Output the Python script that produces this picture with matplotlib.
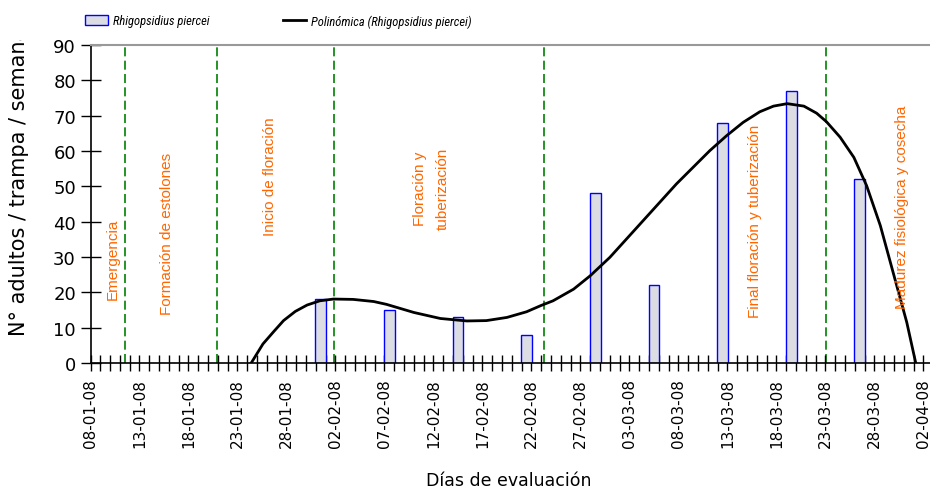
import numpy as np
import matplotlib
matplotlib.use('Agg')
import matplotlib.pyplot as plt
import matplotlib.dates as mdates
from matplotlib import font_manager
from matplotlib.patches import Patch
from matplotlib.lines import Line2D
from matplotlib.transforms import Bbox
from datetime import date

# weekly trap counts
bar_dates = ['2008-01-31', '2008-02-07', '2008-02-14', '2008-02-21', '2008-02-28',
             '2008-03-05', '2008-03-12', '2008-03-19', '2008-03-26']
bar_values = [18, 15, 13, 8, 48, 22, 68, 77, 52]

# polynomial trend line (days after 08-01-08, value)
curve_days = [16.4, 17.6, 18.7, 19.7, 20.9, 22.1, 23.4, 24.8, 26.8, 28.9, 30.2, 33.0,
              35.7, 38.4, 40.4, 42.5, 44.5, 46.0, 47.2, 49.3, 51.0, 53.0, 54.7, 56.4,
              58.1, 59.8, 61.5, 63.2, 64.9, 66.6, 68.3, 69.7, 71.1, 72.8, 74.1, 75.1,
              76.5, 77.9, 79.2, 80.6, 81.9, 83.3, 84.2]
curve_values = [0.0, 5.4, 8.9, 12.0, 14.6, 16.4, 17.6, 18.1, 18.0, 17.4, 16.6, 14.3,
                12.6, 11.9, 12.0, 12.9, 14.5, 16.3, 17.6, 20.9, 24.7, 29.9, 35.1, 40.3,
                45.5, 50.7, 55.4, 60.1, 64.3, 68.1, 71.1, 72.7, 73.4, 72.7, 70.7, 68.3,
                63.9, 58.2, 50.2, 38.9, 25.7, 11.5, 0.2]

# crop stage boundaries (days after 08-01-08)
stage_days = [3.54, 12.93, 24.84, 46.3, 75.1]
stage_labels = ['Emergencia', 'Formación de estolones', 'Inicio de floración',
                'Floración y\ntuberización', 'Final floración y tuberización',
                'Madurez fisiológica y cosecha']
stage_label_days = [2.3, 7.8, 18.3, 34.8, 67.8, 82.8]
stage_label_y = [29.7, 36.9, 53.1, 49.5, 40.5, 44.4]

start = date(2008, 1, 8)
x0 = mdates.date2num(start)

names = {f.name for f in font_manager.fontManager.ttflist}
narrow = None
for cand in ['Liberation Sans Narrow', 'Roboto Condensed', 'DejaVu Sans Condensed',
             'Open Sans Condensed', 'Noto Sans Condensed']:
    if cand in names:
        narrow = cand
        break
if narrow:
    leg_prop = {'family': narrow, 'style': 'italic', 'size': 9}
else:
    leg_prop = {'family': 'Liberation Sans', 'style': 'italic', 'size': 8.5}

fig = plt.figure(figsize=(9.3, 4.89), dpi=100)
ax = fig.add_axes([90.5 / 930, 125 / 489, 839.5 / 930, 318 / 489])

bx = [mdates.date2num(date.fromisoformat(d)) + 0.5 for d in bar_dates]
ax.bar(bx, bar_values, width=1.1, color='#dcdde2', edgecolor='#0000ff', linewidth=1, zorder=2)

ax.plot([x0 + d for d in curve_days], curve_values, color='black', lw=2, zorder=3)

for d in stage_days:
    ax.axvline(x0 + d, color='#008000', lw=1.2, dashes=(5.4, 2.6), zorder=1)

for lab, d, yv in zip(stage_labels, stage_label_days, stage_label_y):
    ax.text(x0 + d, yv, lab, rotation=90, ha='center', va='center', color='#ff6600',
            fontsize=11, family='Liberation Sans', multialignment='center', linespacing=1.8)

ax.set_xlim(x0, x0 + 85.67)
ax.set_ylim(0, 90)
ax.set_yticks(range(0, 91, 10))
ax.xaxis.set_major_locator(matplotlib.ticker.FixedLocator(np.arange(x0, x0 + 86, 5)))
ax.xaxis.set_minor_locator(matplotlib.ticker.FixedLocator(np.arange(x0, x0 + 86, 1)))
ax.xaxis.set_major_formatter(mdates.DateFormatter('%d-%m-%y'))
ax.tick_params(axis='x', which='both', direction='inout', length=12, width=1, pad=5,
               labelrotation=90, labelsize=11)
ax.tick_params(axis='y', direction='inout', length=14, width=1, pad=3.5, labelsize=13)
for lbl in ax.get_xticklabels():
    lbl.set_va('top')

ax.spines['right'].set_visible(False)
ax.spines['top'].set_color('#999999')
ax.spines['top'].set_linewidth(1.5)
ax.spines['left'].set_linewidth(1.2)
ax.spines['bottom'].set_linewidth(1.2)

fig.text(508.5 / 930, 1 - 481 / 489, 'Días de evaluación', ha='center', va='center', fontsize=12.5)

ylab = fig.text(19 / 930, 1 - 336 / 489, 'N° adultos / trampa / semana', rotation=90,
                ha='center', va='bottom', fontsize=15)
ylab.set_clip_box(Bbox.from_extents(0, 0, 930, 489 - 41))
ylab.set_clip_on(True)

leg1 = fig.legend([Patch(facecolor='#dcdde2', edgecolor='#0000ff', linewidth=1)],
                  ['Rhigopsidius piercei'], loc='center left',
                  bbox_to_anchor=(85 / 930, 1 - 22 / 489), frameon=False, prop=leg_prop,
                  handlelength=1.8, handleheight=0.8, handletextpad=0.45,
                  borderpad=0, borderaxespad=0)
leg2 = fig.legend([Line2D([0], [0], color='black', lw=2)],
                  ['Polinómica (Rhigopsidius piercei)'], loc='center left',
                  bbox_to_anchor=(283 / 930, 1 - 22 / 489), frameon=False, prop=leg_prop,
                  handlelength=1.8, handletextpad=0.45, borderpad=0, borderaxespad=0)

fig.savefig('out.png', dpi=100)
